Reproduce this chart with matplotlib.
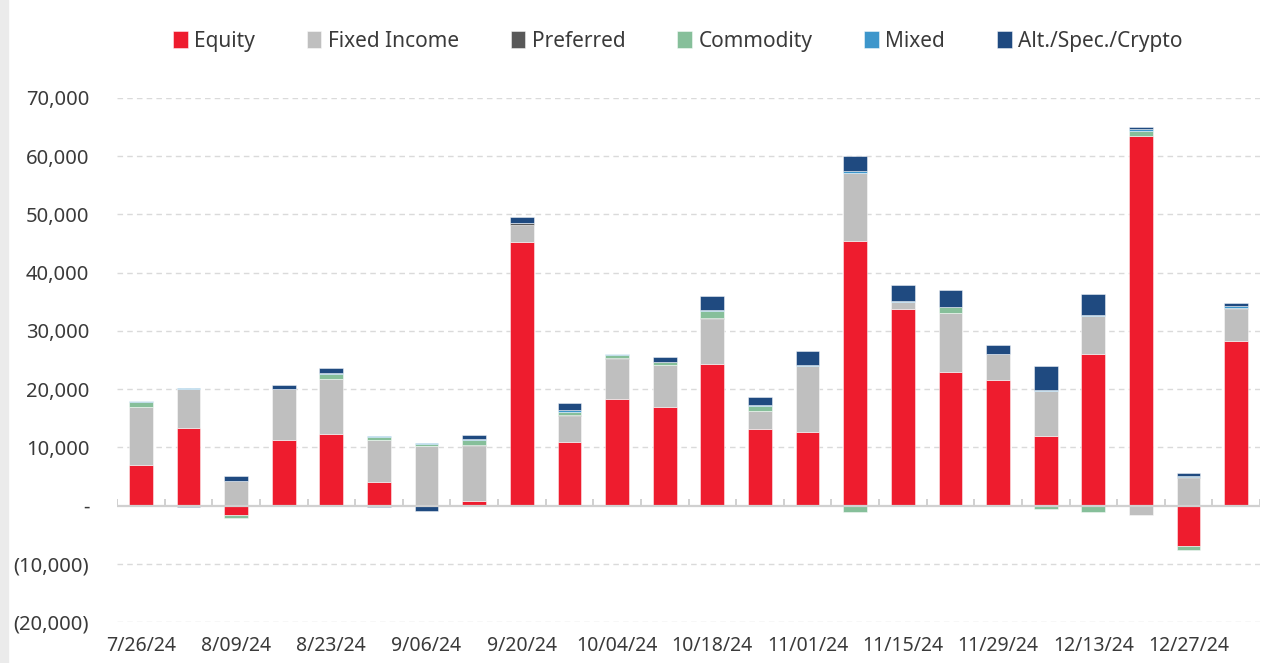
import matplotlib
matplotlib.use("Agg")
import matplotlib.pyplot as plt
import numpy as np
from matplotlib.patches import Rectangle
from matplotlib.ticker import FuncFormatter, MultipleLocator

plt.rcParams["font.family"] = ["Noto Sans", "DejaVu Sans"]

dates = [
    "7/26/24", "8/02/24", "8/09/24", "8/16/24", "8/23/24", "8/30/24",
    "9/06/24", "9/13/24", "9/20/24", "9/27/24", "10/04/24", "10/11/24",
    "10/18/24", "10/25/24", "11/01/24", "11/08/24", "11/15/24", "11/22/24",
    "11/29/24", "12/06/24", "12/13/24", "12/20/24", "12/27/24", "1/03/25",
]

# weekly flows, $ millions
equity = [7000, 13400, -1600, 11300, 12300, 4050, 100, 700, 45200, 11000, 18300, 16900,
          24300, 13200, 12700, 45500, 33750, 23000, 21600, 12000, 26100, 63500, -6900, 28200]
fixed_income = [10000, 6600, 4200, 8700, 9400, 7150, 10100, 9500, 3000, 4400, 6900, 7200,
                7700, 3000, 11200, 11600, 1150, 10050, 4500, 7700, 6400, -1700, 4750, 5500]
preferred = [0, 0, 0, 0, 0, 0, 0, 150, 300, 150, 100, 0,
             150, 0, 0, 100, 0, 0, 0, 0, 0, 0, 100, 200]
commodity = [800, 0, -600, 0, 900, 600, 300, 900, 0, 600, 600, 600,
             1300, 900, 0, -1100, 0, 1000, 0, -600, -1100, 800, -700, 0]
mixed = [100, 200, 0, 0, 100, 200, 200, 100, 100, 250, 200, 0,
         100, 100, 200, 300, 150, 100, 0, 200, 300, 300, 200, 400]
alt_spec_crypto = [100, -300, 900, 700, 1000, -200, -1000, 800, 1000, 1300, 0, 900,
                   2400, 1400, 2400, 2600, 2800, 2850, 1400, 4100, 3600, 400, 500, 500]

series = [
    ("Equity", equity, "#EE1C2E"),
    ("Fixed Income", fixed_income, "#BFBFBF"),
    ("Preferred", preferred, "#595959"),
    ("Commodity", commodity, "#86BF9A"),
    ("Mixed", mixed, "#3D96CB"),
    ("Alt./Spec./Crypto", alt_spec_crypto, "#1F4A80"),
]

text_color = "#3a3a3a"
grid_color = "#DADADA"

fig = plt.figure(figsize=(12.86, 6.63), dpi=100)
fig.patches.append(Rectangle((0, 0), 8 / 1286, 1, transform=fig.transFigure,
                             color="#EBEBEB", zorder=0))
ax = fig.add_axes([117 / 1286, 41 / 663, 1143 / 1286, 524 / 663])

x = np.arange(len(dates))
pos_bottom = np.zeros(len(dates))
neg_bottom = np.zeros(len(dates))
for name, vals, color in series:
    vals = np.array(vals, dtype=float)
    bottom = np.where(vals >= 0, pos_bottom, neg_bottom)
    ax.bar(x, vals, bottom=bottom, width=0.5, color=color, label=name,
           edgecolor=(1, 1, 1, 0.55), linewidth=0.6, zorder=3)
    pos_bottom += np.where(vals >= 0, vals, 0)
    neg_bottom += np.where(vals < 0, vals, 0)

ax.set_xlim(-0.5, len(dates) - 0.5)
ax.set_ylim(-20000, 70000)
ax.yaxis.set_major_locator(MultipleLocator(10000))


def fmt(v, pos):
    if abs(v) < 1:
        return "-"
    if v < 0:
        return "({:,.0f})".format(-v)
    return "{:,.0f}".format(v)


ax.yaxis.set_major_formatter(FuncFormatter(fmt))

# dashed gridlines except at zero
for v in np.arange(-20000, 70001, 10000):
    if v != 0:
        ax.axhline(v, color=grid_color, lw=1, ls=(0, (4, 3)), zorder=1)
ax.axhline(0, color="#D0D0D0", lw=1.6, zorder=4)
ax.vlines(np.arange(len(dates) + 1) - 0.5, 0, 1100, color="#D0D0D0", lw=1.4, zorder=4)

ax.set_xticks(x[::2])
ax.set_xticklabels(dates[::2])
ax.tick_params(axis="x", length=0, pad=10, labelsize=14, labelcolor=text_color)
ax.tick_params(axis="y", length=0, pad=20, labelsize=14.5, labelcolor=text_color)
for s in ax.spines.values():
    s.set_visible(False)

fig.legend(loc="center", bbox_to_anchor=(0.527, 0.938), ncol=6, frameon=False,
           fontsize=15, handlelength=0.7, handleheight=0.9, handletextpad=0.3,
           columnspacing=2.5, labelcolor=text_color)

fig.savefig("out.png", dpi=100)
